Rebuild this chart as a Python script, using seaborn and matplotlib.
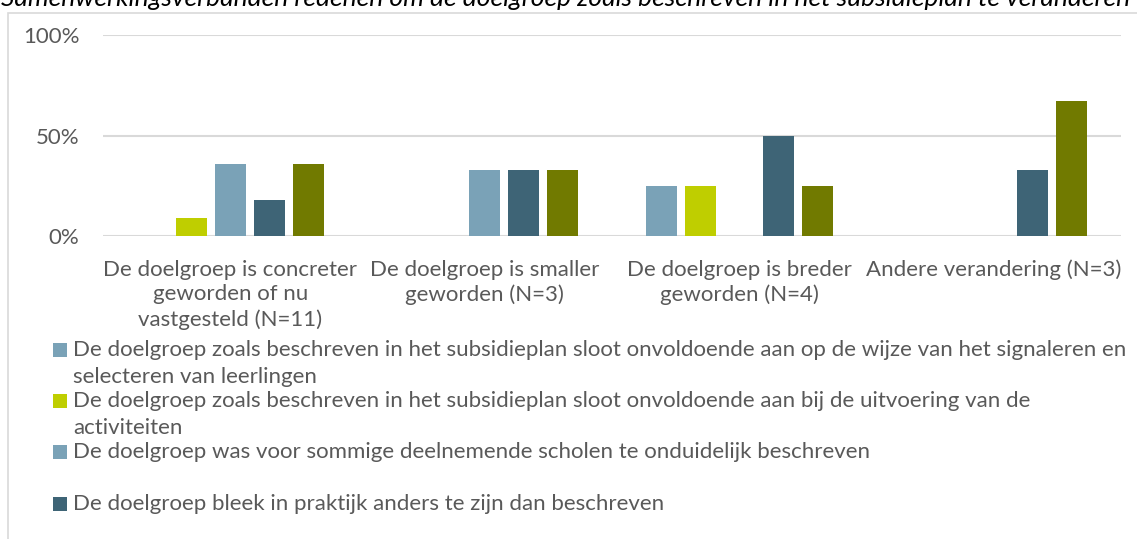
import matplotlib
matplotlib.use("Agg")
import matplotlib.pyplot as plt
from matplotlib.patches import Rectangle
import seaborn as sns
import pandas as pd

# Categories (x axis) and the reasons (series) behind each change
categories = [
    "De doelgroep is concreter\ngeworden of nu\nvastgesteld (N=11)",
    "De doelgroep is smaller\ngeworden (N=3)",
    "De doelgroep is breder\ngeworden (N=4)",
    "Andere verandering (N=3)",
]

reasons = [
    "De doelgroep zoals beschreven in het subsidieplan sloot onvoldoende aan op de wijze van het signaleren en\nselecteren van leerlingen",
    "De doelgroep zoals beschreven in het subsidieplan sloot onvoldoende aan bij de uitvoering van de\nactiviteiten",
    "De doelgroep was voor sommige deelnemende scholen te onduidelijk beschreven",
    "De doelgroep bleek in praktijk anders te zijn dan beschreven",
    "Anders",
]

# Share of respondents per category, one list per reason
signaleren = [0.00, 0.00, 0.25, 0.00]
uitvoering = [0.09, 0.00, 0.25, 0.00]
onduidelijk = [0.36, 0.33, 0.00, 0.00]
praktijk = [0.18, 0.33, 0.50, 0.33]
anders = [0.36, 0.33, 0.25, 0.67]

colors = ["#7AA2B7", "#BFCE00", "#7AA2B7", "#3E6476", "#717A00"]

yticks = [0, 0.5, 1.0]
ytick_labels = ["0%", "50%", "100%"]

title = ("Samenwerkingsverbanden redenen om de doelgroep zoals beschreven "
         "in het subsidieplan te veranderen")

series = [signaleren, uitvoering, onduidelijk, praktijk, anders]
df = pd.DataFrame(
    [(cat, reason, vals[i])
     for reason, vals in zip(reasons, series)
     for i, cat in enumerate(categories)],
    columns=["categorie", "reden", "aandeel"],
)
palette = dict(zip(reasons, colors))

sns.set_style("white")
plt.rcParams["font.family"] = ["Lato", "DejaVu Sans"]

TXT = "#595959"
GRID = "#D9D9D9"
W, H = 1137, 539
FS = 16

fig = plt.figure(figsize=(W / 100, H / 100), dpi=100)
ax = fig.add_axes([103 / W, 1 - 236 / H, (1121 - 103) / W, (236 - 35) / H])

sns.barplot(
    data=df, x="categorie", y="aandeel", hue="reden",
    order=categories, hue_order=reasons, palette=palette, saturation=1,
    width=0.766, gap=0.2, linewidth=0, legend=False, ax=ax, zorder=3,
)

ax.set_ylim(0, 1)
ax.set_xlim(-0.5, len(categories) - 0.5)
ax.set_yticks(yticks)
ax.set_yticklabels(ytick_labels)
ax.yaxis.grid(True, color=GRID, linewidth=1.5, zorder=0)
ax.xaxis.grid(False)
ax.set_axisbelow(True)
for s in ax.spines.values():
    s.set_visible(False)
ax.set_xlabel("")
ax.set_ylabel("")
ax.tick_params(axis="y", length=0, pad=17, labelsize=FS, labelcolor=TXT)
ax.tick_params(axis="x", length=0, pad=17, labelsize=FS, labelcolor=TXT)
for lab in ax.get_xticklabels():
    lab.set_linespacing(1.3)

# Title, partly above the canvas
fig.text(0.497, 1 - 6 / H, title, ha="center", va="baseline",
         style="italic", fontsize=19, color="black")

# Light frame around the chart
fig.add_artist(Rectangle((8 / W, -0.1), 1.2, 1 - 13 / H + 0.1,
                         transform=fig.transFigure, fill=False,
                         edgecolor=GRID, linewidth=1.2))

# Legend below the plot
entry_y = [350, 401, 452, 504]
for y0, reason, color in zip(entry_y, reasons, colors):
    fig.add_artist(Rectangle((53 / W, 1 - (y0 + 7) / H), 14 / W, 14 / H,
                             transform=fig.transFigure, facecolor=color,
                             edgecolor="none"))
    for j, line in enumerate(reason.split("\n")):
        fig.text(73 / W, 1 - (y0 + 27 * j) / H, line, ha="left", va="center",
                 fontsize=FS, color=TXT)

fig.savefig("out.png", dpi=100)
